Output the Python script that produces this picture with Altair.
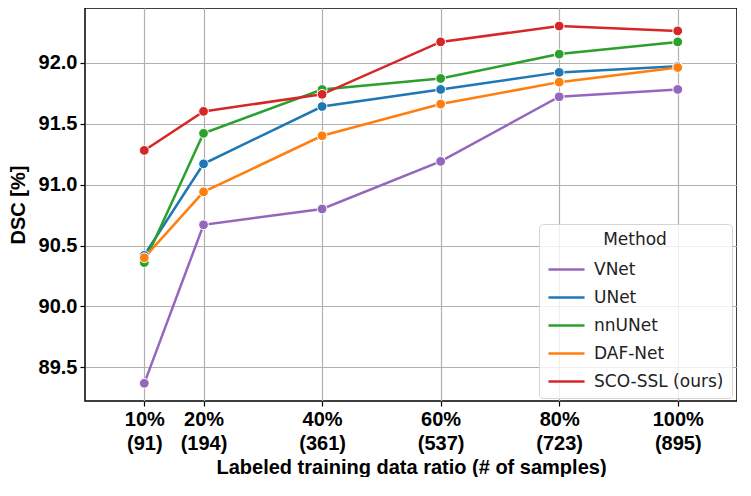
import altair as alt
import pandas as pd

ratios = [10, 20, 40, 60, 80, 100]
ratio_labels = ["10%", "20%", "40%", "60%", "80%", "100%"]
sample_labels = ["(91)", "(194)", "(361)", "(537)", "(723)", "(895)"]

methods = ["VNet", "UNet", "nnUNet", "DAF-Net", "SCO-SSL (ours)"]
colors = ["#9467bd", "#1f77b4", "#2ca02c", "#ff7f0e", "#d62728"]

vnet = [89.37, 90.67, 90.80, 91.19, 91.72, 91.78]
unet = [90.42, 91.17, 91.64, 91.78, 91.92, 91.97]
nnunet = [90.36, 91.42, 91.78, 91.87, 92.07, 92.17]
dafnet = [90.40, 90.94, 91.40, 91.66, 91.84, 91.96]
scossl = [91.28, 91.60, 91.74, 92.17, 92.30, 92.26]

series = [vnet, unet, nnunet, dafnet, scossl]
rows = []
for m, vals in zip(methods, series):
    for r, v in zip(ratios, vals):
        rows.append({"Method": m, "ratio": r, "dsc": v})
df = pd.DataFrame(rows)

label_expr = ""
for r, a, b in zip(ratios, ratio_labels, sample_labels):
    label_expr += f"datum.value == {r} ? ['{a}', '{b}'] : "
label_expr += "''"

x = alt.X(
    "ratio:Q",
    scale=alt.Scale(domain=[0, 110], nice=False, zero=False),
    axis=alt.Axis(
        values=ratios,
        labelExpr=label_expr,
        title="Labeled training data ratio (# of samples)",
        labelLineHeight=24,
        titlePadding=4,
    ),
)
y = alt.Y(
    "dsc:Q",
    scale=alt.Scale(domain=[89.225, 92.448], nice=False, zero=False),
    axis=alt.Axis(
        values=[89.5, 90.0, 90.5, 91.0, 91.5, 92.0],
        format=".1f",
        title="DSC [%]",
        titlePadding=10,
    ),
)
legend = alt.Legend(
    title="Method",
    orient="none",
    legendX=454,
    legendY=216,
    symbolType="stroke",
    symbolSize=1300,
    symbolStrokeWidth=2.5,
    labelFont="DejaVu Sans",
    labelFontSize=17,
    labelColor="#222222",
    titleFont="DejaVu Sans",
    titleFontSize=17,
    titleFontWeight="normal",
    titleColor="#222222",
    titleAnchor="middle",
    titlePadding=1,
    fillColor="rgba(255,255,255,0.8)",
    strokeColor="#d5d5d5",
    cornerRadius=4,
    padding=8,
    rowPadding=-1,
    labelOffset=8,
)
color = alt.Color(
    "Method:N",
    scale=alt.Scale(domain=methods, range=colors),
    sort=methods,
    legend=legend,
)

lines = alt.Chart(df).mark_line(strokeWidth=2.5).encode(x=x, y=y, color=color, order="ratio:Q")
points = alt.Chart(df).mark_point(
    filled=True, size=95, opacity=1, stroke="white", strokeWidth=1
).encode(
    x=x,
    y=y,
    fill=alt.Fill("Method:N", scale=alt.Scale(domain=methods, range=colors), legend=None),
)

chart = (
    alt.layer(lines, points)
    .properties(width=652, height=393, padding=0)
    .configure_view(stroke="black", strokeWidth=1.5)
    .configure_axis(
        labelFont="Liberation Sans",
        labelFontSize=20,
        labelFontWeight="bold",
        labelColor="black",
        titleFont="Liberation Sans",
        titleFontSize=20,
        titleFontWeight="bold",
        titleColor="black",
        gridColor="#b0b0b0",
        gridWidth=1.2,
        domain=False,
        tickColor="black",
        tickSize=5,
        tickWidth=1.2,
        labelPadding=3,
    )
)

chart.save("out.html", embed_options={"renderer": "svg", "actions": False})
